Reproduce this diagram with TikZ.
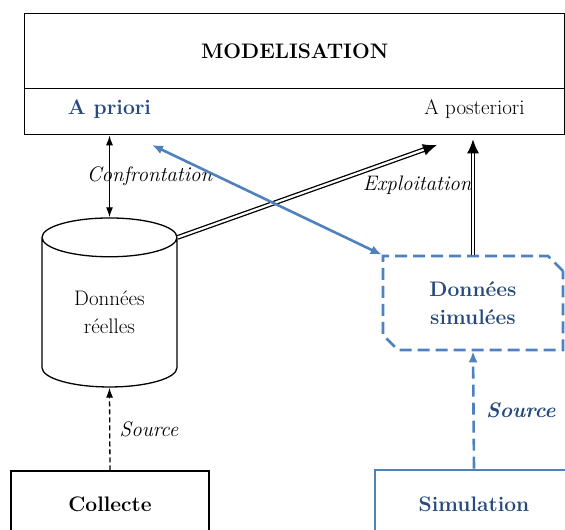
\documentclass[tikz,border=0pt]{standalone}
\usepackage{tikz}
\usetikzlibrary{arrows.meta,shapes.geometric,shapes.misc}
\definecolor{bleutrait}{RGB}{79,129,189}
\definecolor{bleutexte}{RGB}{38,74,126}
\newcommand\taille{\fontsize{21}{28}\selectfont}
\tikzset{
  boite/.style={draw, line width=1.3pt, inner sep=0pt},
  fleche/.style={line width=1.3pt, -{Latex[length=10pt,width=7pt]}},
  double fleche/.style={double, double distance=2.2pt, line width=1.3pt, -{Latex[length=14pt,width=12pt]}},
  fleche bleue/.style={line width=2.6pt, color=bleutrait, -{Latex[length=11pt,width=9pt]}},
  tirets bleus/.style={dash pattern=on 12pt off 6pt},
}
\begin{document}
\begin{tikzpicture}[x=1pt, y=-1pt, font=\taille]
\useasboundingbox (0,0) rectangle (565,530);
%%%%% START %%%%%

% bloc modelisation
\node[boite, anchor=north west, minimum width=540pt, minimum height=75pt] (modele) at (24,13) {\textbf{MODELISATION}};
\node[boite, anchor=north west, minimum width=540pt, minimum height=46pt] (phases) at (24,88) {};
\node[text=bleutexte, font=\taille\bfseries] (apriori) at (109.5,109) {A priori};
\node (aposteriori) at (474.5,109) {A posteriori};

% donnees
\node[boite, cylinder, shape border rotate=90, aspect=0.55, minimum width=135pt, minimum height=169pt, align=center] (reelles) at (109.5,312.5) {Données\\réelles};
\node[draw=bleutrait, line width=2.6pt, tirets bleus, chamfered rectangle, chamfered rectangle corners={north east,south west}, chamfered rectangle xsep=7.5pt, chamfered rectangle ysep=7.5pt, minimum width=180pt, minimum height=94pt, inner sep=0pt, text=bleutexte, font=\taille\bfseries, align=center] (simulees) at (473,303) {Données\\simulées};

% sources
\node[boite, minimum width=198pt, minimum height=67pt, font=\taille\bfseries] (collecte) at (110,504.5) {Collecte};
\node[draw=bleutrait, line width=2.6pt, minimum width=198pt, minimum height=68pt, text=bleutexte, font=\taille\bfseries] (simulation) at (474,504) {Simulation};

\coordinate (pointe) at (437,145);
\coordinate (retour) at (152,145);

% liens
\draw[fleche, {Latex[length=10pt,width=7pt]}-{Latex[length=10pt,width=7pt]}] (reelles.top) -- (reelles.top |- phases.south)
  node[pos=0.5, xshift=40pt, font=\taille\itshape] {Confrontation};
\draw[double fleche] (reelles.after top) -- (pointe);
\draw[double fleche, shorten >=4pt] (simulees.north) -- (simulees.north |- phases.south)
  node[pos=0.58, anchor=east, inner sep=1pt, font=\taille\itshape] {Exploitation};
\draw[fleche bleue, {Latex[length=11pt,width=9pt]}-{Latex[length=11pt,width=9pt]}] (simulees.north west) -- (retour);
\draw[fleche, dash pattern=on 5pt off 3pt] (collecte.north) -- (reelles.bottom)
  node[pos=0.5, right=6pt, font=\taille\itshape] {Source};
\draw[fleche bleue, tirets bleus] (simulation.north) -- (simulees.south)
  node[pos=0.5, right=8pt, text=bleutexte, font=\taille\bfseries\itshape] {Source};

%%%%% END %%%%%
\end{tikzpicture}
\end{document}
